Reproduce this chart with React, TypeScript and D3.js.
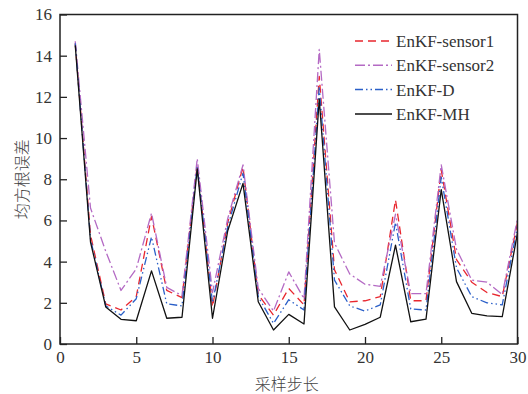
import React, { useEffect, useRef } from "react";
import * as d3 from "d3";

// sampling steps 1..30
const steps = d3.range(1, 31);

const sensor1 = [14.6, 5.3, 1.95, 1.65, 2.3, 6.2, 2.6, 2.25, 8.7, 1.8,
  5.9, 8.6, 2.4, 1.4, 2.7, 1.9, 13.0, 3.6, 2.05, 2.1,
  2.3, 7.0, 2.1, 2.1, 8.45, 4.1, 3.0, 2.5, 2.3, 5.9];
const sensor2 = [14.7, 6.6, 4.5, 2.6, 3.65, 6.35, 2.75, 2.35, 9.0, 2.5,
  6.1, 8.7, 2.7, 1.6, 3.5, 2.2, 14.3, 4.9, 3.4, 2.9,
  2.8, 6.3, 2.45, 2.45, 8.7, 4.6, 3.1, 3.0, 2.4, 6.1];
const enkfD = [14.6, 5.1, 1.85, 1.4, 2.2, 5.2, 1.95, 1.85, 8.6, 2.0,
  5.7, 8.3, 2.3, 1.0, 2.15, 1.65, 12.5, 3.1, 1.85, 1.6,
  1.9, 5.9, 1.7, 1.65, 8.1, 3.7, 2.3, 2.0, 1.9, 5.7];
const enkfMH = [14.5, 4.95, 1.8, 1.2, 1.13, 3.55, 1.25, 1.3, 8.5, 1.25,
  5.5, 7.8, 2.05, 0.68, 1.44, 0.97, 11.9, 1.8, 0.68, 0.95,
  1.3, 4.8, 1.08, 1.21, 7.5, 3.03, 1.49, 1.37, 1.33, 5.4];

const seriesNames = ["EnKF-sensor1", "EnKF-sensor2", "EnKF-D", "EnKF-MH"];
const seriesValues = [sensor1, sensor2, enkfD, enkfMH];
const seriesColors = ["#e8262e", "#b46ac4", "#2a5fc8", "#111111"];
const seriesDash = ["8,5", "10,3,2,3", "8,3,1.5,3,1.5,3", null];

const xTicks = [0, 5, 10, 15, 20, 25, 30];
const yTicks = [0, 2, 4, 6, 8, 10, 12, 14, 16];

const App = () => {
  const svgRef = useRef<SVGSVGElement>(null);

  useEffect(() => {
    const width = 528;
    const height = 394;
    const margin = { top: 14.5, right: 10.5, bottom: 50, left: 60 };
    const serif = "'Liberation Serif', 'DejaVu Serif', 'Noto Serif', serif";
    const cjk = "'Noto Sans CJK SC', sans-serif";
    const textColor = "#333";

    const svg = d3.select(svgRef.current)
      .attr("width", width)
      .attr("height", height)
      .attr("font-family", serif);
    svg.selectAll("*").remove();

    const xScale = d3.scaleLinear()
      .domain([0, 30])
      .range([margin.left, width - margin.right]);
    const yScale = d3.scaleLinear()
      .domain([0, 16])
      .range([height - margin.bottom, margin.top]);

    const x0 = xScale(0), x1 = xScale(30), y0 = yScale(0), y1 = yScale(16);

    // series
    const line = d3.line<number>()
      .x((d, i) => xScale(steps[i]))
      .y(d => yScale(d));

    seriesValues.forEach((vals, k) => {
      const p = svg.append("path")
        .datum(vals)
        .attr("fill", "none")
        .attr("stroke", seriesColors[k])
        .attr("stroke-width", 1.3)
        .attr("stroke-linejoin", "round")
        .attr("d", line);
      if (seriesDash[k]) p.attr("stroke-dasharray", seriesDash[k]);
    });

    // frame
    svg.append("rect")
      .attr("x", x0).attr("y", y1)
      .attr("width", x1 - x0).attr("height", y0 - y1)
      .attr("fill", "none")
      .attr("stroke", "#222")
      .attr("stroke-width", 1.5);

    // inward ticks on bottom and left
    const xAxis = d3.axisBottom(xScale).tickValues(xTicks).tickSizeInner(-7).tickSizeOuter(0).tickPadding(6);
    const gx = svg.append("g").attr("transform", `translate(0,${y0})`).call(xAxis)
      .attr("font-family", null).attr("font-size", null);
    gx.select(".domain").remove();
    gx.selectAll("line").attr("stroke", "#222").attr("stroke-width", 1.3);
    gx.selectAll("text")
      .attr("y", 7)
      .style("font-family", serif).style("font-size", "17px").attr("fill", textColor);

    const yAxis = d3.axisLeft(yScale).tickValues(yTicks).tickSizeInner(-7).tickSizeOuter(0).tickPadding(6);
    const gy = svg.append("g").attr("transform", `translate(${x0},0)`).call(yAxis)
      .attr("font-family", null).attr("font-size", null);
    gy.select(".domain").remove();
    gy.selectAll("line").attr("stroke", "#222").attr("stroke-width", 1.3);
    gy.selectAll("text")
      .attr("x", -8)
      .style("font-family", serif).style("font-size", "17px").attr("fill", textColor);

    // axis titles
    svg.append("text")
      .attr("x", (x0 + x1) / 2 - 2).attr("y", 390)
      .attr("text-anchor", "middle")
      .style("font-family", cjk)
      .style("font-weight", 300)
      .style("font-size", "16px").attr("fill", "#444")
      .text("采样步长");
    svg.append("text")
      .attr("transform", `translate(28,${(y0 + y1) / 2}) rotate(-90)`)
      .attr("text-anchor", "middle")
      .style("font-family", cjk)
      .style("font-weight", 300)
      .style("font-size", "16px").attr("fill", "#444")
      .text("均方根误差");

    // legend
    const legend = svg.append("g").attr("transform", "translate(355,41)");
    seriesNames.forEach((name, k) => {
      const row = legend.append("g").attr("transform", `translate(0,${k * 24.3})`);
      const l = row.append("line")
        .attr("x1", 0).attr("x2", 37).attr("y1", 0).attr("y2", 0)
        .attr("stroke", seriesColors[k]).attr("stroke-width", 1.5);
      if (seriesDash[k]) l.attr("stroke-dasharray", seriesDash[k]);
      row.append("text")
        .attr("x", 41).attr("y", 0).attr("dy", "0.35em")
        .style("font-family", serif).style("font-size", "17px").attr("fill", textColor)
        .text(name);
    });
  }, []);

  return <svg ref={svgRef} style={{ position: "absolute", left: 0, top: 0 }}></svg>;
};

export default App;
